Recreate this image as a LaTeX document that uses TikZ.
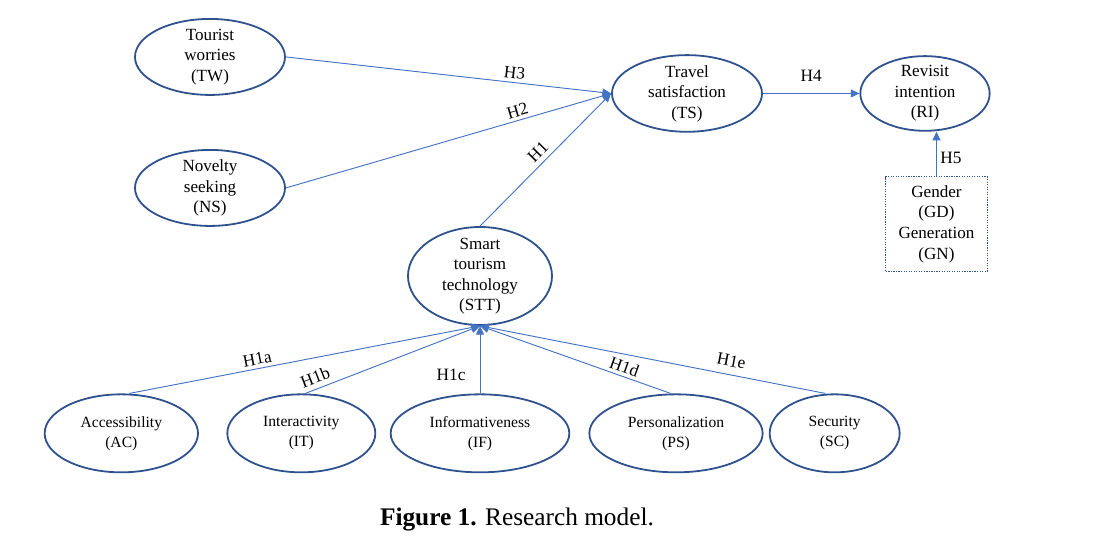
\documentclass[tikz,border=0pt]{standalone}
\usepackage{fontspec}
\setmainfont{Liberation Serif}
\usetikzlibrary{positioning, shapes.geometric, arrows.meta}

\definecolor{edgeblue}{RGB}{68,114,196}
\definecolor{rimblue}{RGB}{47,82,143}

\begin{document}
\begin{tikzpicture}[
    on grid,
    var/.style={ellipse, draw=rimblue, line width=1.35pt, inner sep=-8pt,
                align=center, font=\fontsize{12.8}{15.4}\selectfont},
    lowrow/.style={font=\fontsize{11.7}{15}\selectfont,
                   minimum height=58.5pt},
    hyp/.style={draw=edgeblue, line width=0.7pt,
                -{Triangle[length=6.5pt,width=6pt]}},
    hlab/.style={font=\fontsize{13}{15}\selectfont, inner sep=2.5pt}]

  \useasboundingbox (-360pt,-196.5pt) rectangle (480pt,207pt);

  \node[var, minimum width=108pt, minimum height=73.5pt] (stt)
       {Smart\\tourism\\technology\\(STT)};
  \node[var, minimum width=112.5pt, minimum height=57.5pt,
        above right=136.9pt and 155.25pt of stt] (ts)
       {Travel\\satisfaction\\(TS)};
  \node[var, minimum width=97pt, minimum height=56pt,
        right=178.5pt of ts] (ri) {Revisit\\intention\\(RI)};
  \node[draw=rimblue, densely dotted, line width=0.9pt,
        minimum width=76pt, minimum height=71pt, align=center,
        font=\fontsize{12.8}{15.4}\selectfont,
        below right=98pt and 8.6pt of ri] (gd)
       {Gender\\(GD)\\Generation\\(GN)};
  \node[var, minimum width=112.5pt, minimum height=57pt,
        above left=27.4pt and 357.75pt of ts] (tw) {Tourist\\worries\\(TW)};
  \node[var, minimum width=112.5pt, minimum height=57pt,
        below=98.25pt of tw] (ns) {Novelty\\seeking\\(NS)};

  % dimensions of STT
  \node[var, lowrow, minimum width=134pt, below=118pt of stt] (if)
       {Informativeness\\(IF)};
  \node[var, lowrow, minimum width=111pt, left=134pt of if] (it)
       {Interactivity\\(IT)};
  \node[var, lowrow, minimum width=115pt, left=269pt of if] (ac)
       {Accessibility\\(AC)};
  \node[var, lowrow, minimum width=130pt, right=147pt of if] (ps)
       {Personalization\\(PS)};
  \node[var, lowrow, minimum width=97.5pt, right=266pt of if] (sc)
       {Security\\(SC)};

  \draw[hyp] (tw.east) -- node[hlab, sloped, above, pos=0.7] {H3} (ts.west);
  \draw[hyp] (ns.east) -- node[hlab, sloped, above, pos=0.72] {H2} (ts.west);
  \draw[hyp] (stt.north) -- node[hlab, sloped, above=1pt, pos=0.5] {H1} (ts.west);
  \draw[hyp] (ts) -- node[hlab, above=6pt] {H4} (ri);
  \draw[hyp] (gd.north) -- node[hlab, right, pos=0.42] {H5} (gd.north |- ri.south);

  \draw[hyp] ([xshift=6pt]ac.north) -- node[hlab, sloped, above, pos=0.37] {H1a} (stt.south);
  \draw[hyp] ([xshift=3pt]it.north) -- node[hlab, sloped, above=1pt, pos=0.08] {H1b} (stt.south);
  \draw[hyp] (if.north) -- node[hlab, left=8pt, pos=0.27] {H1c} (stt.south);
  \draw[hyp] ([xshift=-4pt]ps.north) -- node[hlab, sloped, above, pos=0.26] {H1d} (stt.south);
  \draw[hyp] ([xshift=-7pt]sc.north) -- node[hlab, sloped, above=3pt, pos=0.28] {H1e} (stt.south);

  \node[font=\fontsize{19}{22}\selectfont] (cap) at (27.75pt,-182.5pt)
       {\textbf{Figure 1.} Research model.};

\end{tikzpicture}
\end{document}
